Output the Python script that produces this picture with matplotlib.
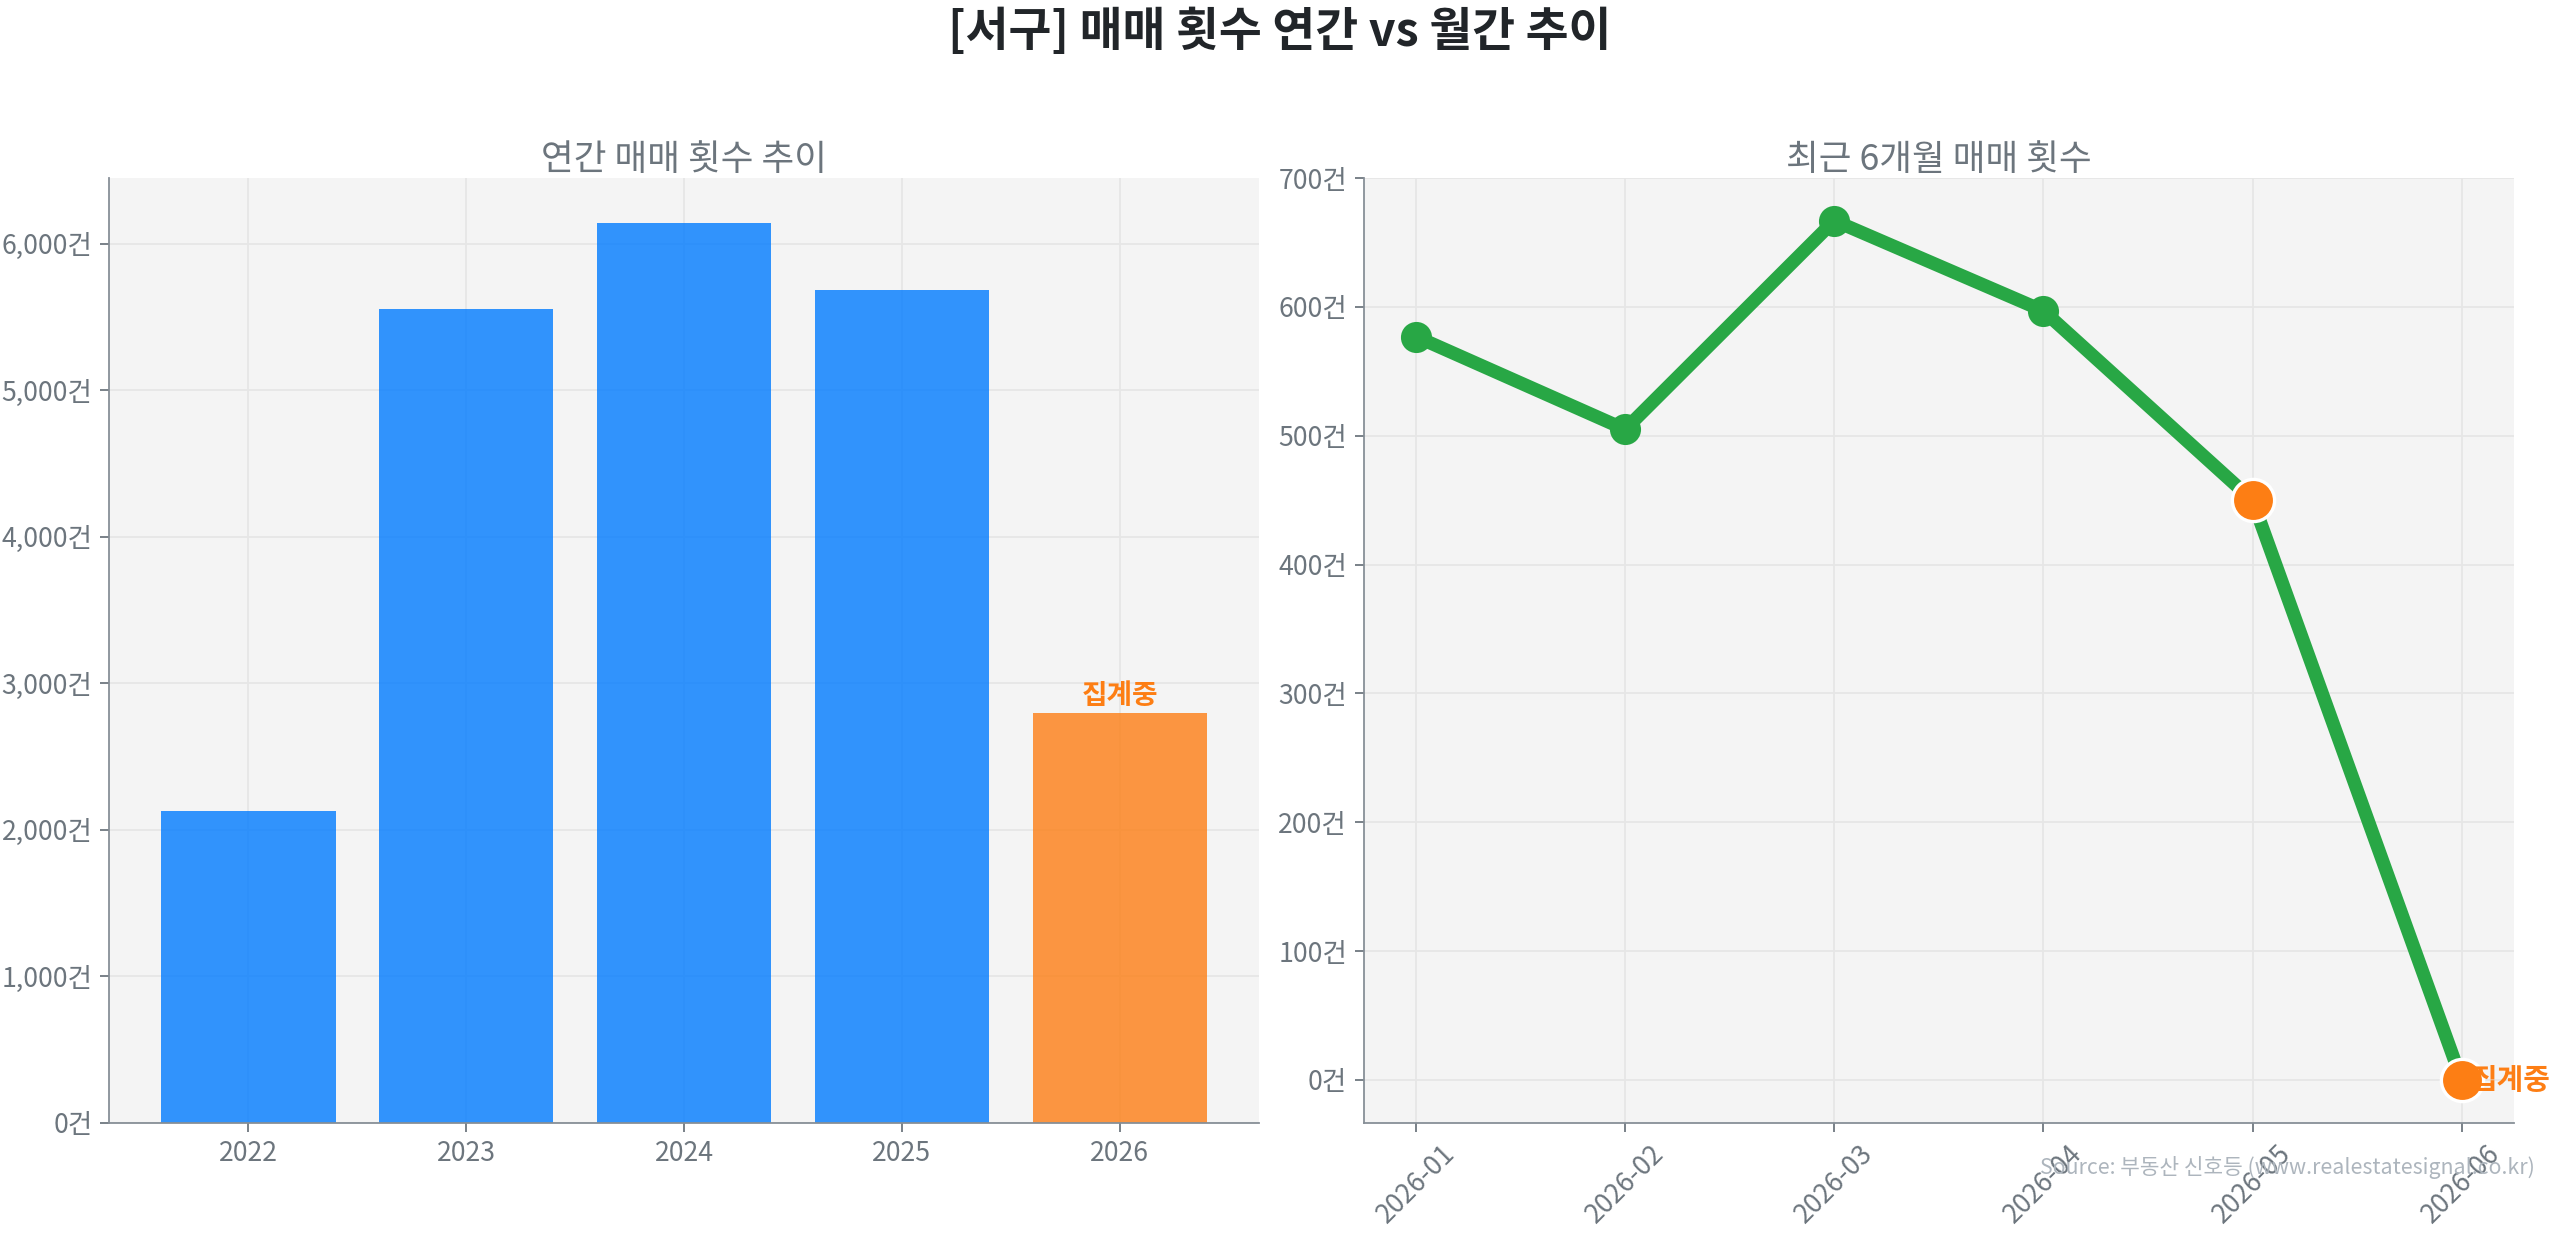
import matplotlib
matplotlib.use("Agg")
import matplotlib.pyplot as plt
from matplotlib.ticker import FuncFormatter

plt.rcParams["font.family"] = ["Noto Sans CJK KR", "DejaVu Sans"]
plt.rcParams["axes.unicode_minus"] = False

# data
years = ["2022", "2023", "2024", "2025", "2026"]
year_counts = [2130, 5552, 6143, 5686, 2800]
months = ["2026-01", "2026-02", "2026-03", "2026-04", "2026-05", "2026-06"]
month_counts = [577, 505, 667, 597, 450, 0]
pending_months = ["2026-05", "2026-06"]

TXT = "#6c757d"
GRID = "#e6e6e6"
BG = "#f4f4f4"

fig, (ax1, ax2) = plt.subplots(1, 2, figsize=(16, 7.7125), dpi=160)
fig.subplots_adjust(left=0.0426, right=0.982, top=0.856, bottom=0.09, wspace=0.091)

for ax in (ax1, ax2):
    ax.set_facecolor(BG)
    ax.set_axisbelow(True)
    ax.grid(True, color=GRID, linewidth=0.8)
    for sp in ("top", "right"):
        ax.spines[sp].set_visible(False)
    for sp in ("left", "bottom"):
        ax.spines[sp].set_color("#868e96")
    ax.tick_params(colors=TXT, labelsize=12, length=4)
    ax.yaxis.set_major_formatter(FuncFormatter(lambda v, p: f"{int(v):,}건"))

# -- annual bars
colors = ["#fd7e14" if y == years[-1] else "#007bff" for y in years]
bars = ax1.bar(years, year_counts, color=colors, alpha=0.8, width=0.8)
ax1.set_ylim(0, max(year_counts) * 1.05)
ax1.set_yticks(range(0, 7000, 1000))
ax1.set_title("연간 매매 횟수 추이", fontsize=16, color=TXT, pad=3)
last = bars[-1]
ax1.annotate("집계중", (last.get_x() + last.get_width() / 2, last.get_height()),
             xytext=(0, 1), textcoords="offset points", ha="center", va="bottom",
             color="#fd7e14", fontsize=12.5, fontweight="bold")

# -- monthly line
ax2.plot(months, month_counts, color="#28a745", linewidth=6, marker="o", markersize=13)
pend_vals = [c for m, c in zip(months, month_counts) if m in pending_months]
ax2.plot(pending_months, pend_vals, linestyle="none", marker="o", markersize=19,
         color="#fd7e14", markeredgecolor="white", markeredgewidth=1.5, zorder=5)
mx = max(month_counts)
ax2.set_ylim(-mx * 0.05, mx * 1.05)
ax2.set_yticks(range(0, 800, 100))
ax2.set_title("최근 6개월 매매 횟수", fontsize=16, color=TXT, pad=3)
ax2.annotate("집계중", (months[-1], month_counts[-1]), xytext=(4, 0),
             textcoords="offset points", ha="left", va="center",
             color="#fd7e14", fontsize=13, fontweight="bold", zorder=6)
plt.setp(ax2.get_xticklabels(), rotation=45)

fig.suptitle("[서구] 매매 횟수 연간 vs 월간 추이", fontsize=21, fontweight="bold",
             color="#212529", y=0.974, va="center")
fig.text(0.99, 0.054, "Source: 부동산 신호등 (www.realestatesignal.co.kr)", ha="right",
         va="center", fontsize=9.6, color="#adb5bd")

fig.savefig("out.png", dpi=160)
